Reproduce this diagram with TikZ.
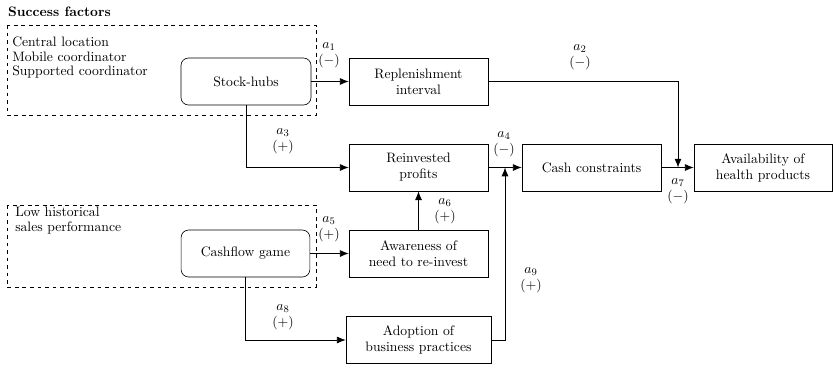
\documentclass[tikz,border=0pt]{standalone}
\usetikzlibrary{arrows.meta}
\begin{document}
\begin{tikzpicture}[x=0.8pt,y=-0.8pt,
  every node/.style={font=\fontsize{10.95}{12.8}\selectfont},
  box/.style={draw,line width=0.5pt,align=center,minimum height=37.6pt,inner sep=2pt},
  rbox/.style={box,rounded corners=6pt},
  arr/.style={line width=0.5pt,-{Latex[length=7pt,width=5.5pt]}},
  grp/.style={dashed,line width=0.5pt},
  lbl/.style={align=center,inner sep=0pt},
  txt/.style={anchor=west,inner sep=0pt}]
\useasboundingbox (0,0) rectangle (837,366);
% heading
\node[txt,font=\fontsize{10.95}{12.8}\selectfont\bfseries] (head) at (8,12) {Success factors};
% group boxes
\draw[grp] (7,25) rectangle (316,115);
\draw[grp] (7,205) rectangle (316,287);
\node[txt] (t1) at (12,42) {Central location};
\node[txt] (t2) at (12,57) {Mobile coordinator};
\node[txt] (t3) at (12,72) {Supported coordinator};
\node[txt] (t4) at (15,212) {Low historical};
\node[txt] (t5) at (15,228) {sales performance};
% nodes
\node[rbox,minimum width=104pt] (sh) at (246,81.5) {Stock-hubs};
\node[rbox,minimum width=103pt] (cf) at (245.5,253.5) {Cashflow game};
\node[box,minimum width=111.2pt] (rep) at (418.5,81.5) {Replenishment\\interval};
\node[box,minimum width=111.2pt] (rp) at (418.5,167.5) {Reinvested\\profits};
\node[box,minimum width=111.2pt] (aw) at (418.5,253.5) {Awareness of\\need to re-invest};
\node[box,minimum width=116pt] (ad) at (418.5,340) {Adoption of\\business practices};
\node[box,minimum width=111.2pt] (cc) at (591.5,167.5) {Cash constraints};
\node[box,minimum width=110.4pt] (av) at (763,167.5) {Availability of\\health products};
% junction points
\coordinate (m7) at (678,167.5);
\coordinate (m4) at (505,167.5);
% connectors
\draw[arr] (sh.east) -- (rep.west);
\draw[arr] (rep.east) -| (m7);
\draw[arr] (sh.south) |- (rp.west);
\draw[arr] (rp.east) -- (cc.west);
\draw[arr] (cc.east) -- (av.west);
\draw[arr] (cf.east) -- (aw.west);
\draw[arr] (aw.north) -- (rp.south);
\draw[arr] (cf.south) |- (ad.west);
\draw[arr] (ad.east) -| (m4);
% labels
\node[lbl] (l1) at (329,55) {$a_1$\\$(-)$};
\node[lbl] (l2) at (580,57) {$a_2$\\$(-)$};
\node[lbl] (l3) at (283,141) {$a_3$\\$(+)$};
\node[lbl] (l4) at (504,144) {$a_4$\\$(-)$};
\node[lbl] (l5) at (329,229) {$a_5$\\$(+)$};
\node[lbl] (l6) at (445,211) {$a_6$\\$(+)$};
\node[lbl] (l7) at (678,191) {$a_7$\\$(-)$};
\node[lbl] (l8) at (283,317) {$a_8$\\$(+)$};
\node[lbl] (l9) at (531,280) {$a_9$\\$(+)$};
\end{tikzpicture}
\end{document}
